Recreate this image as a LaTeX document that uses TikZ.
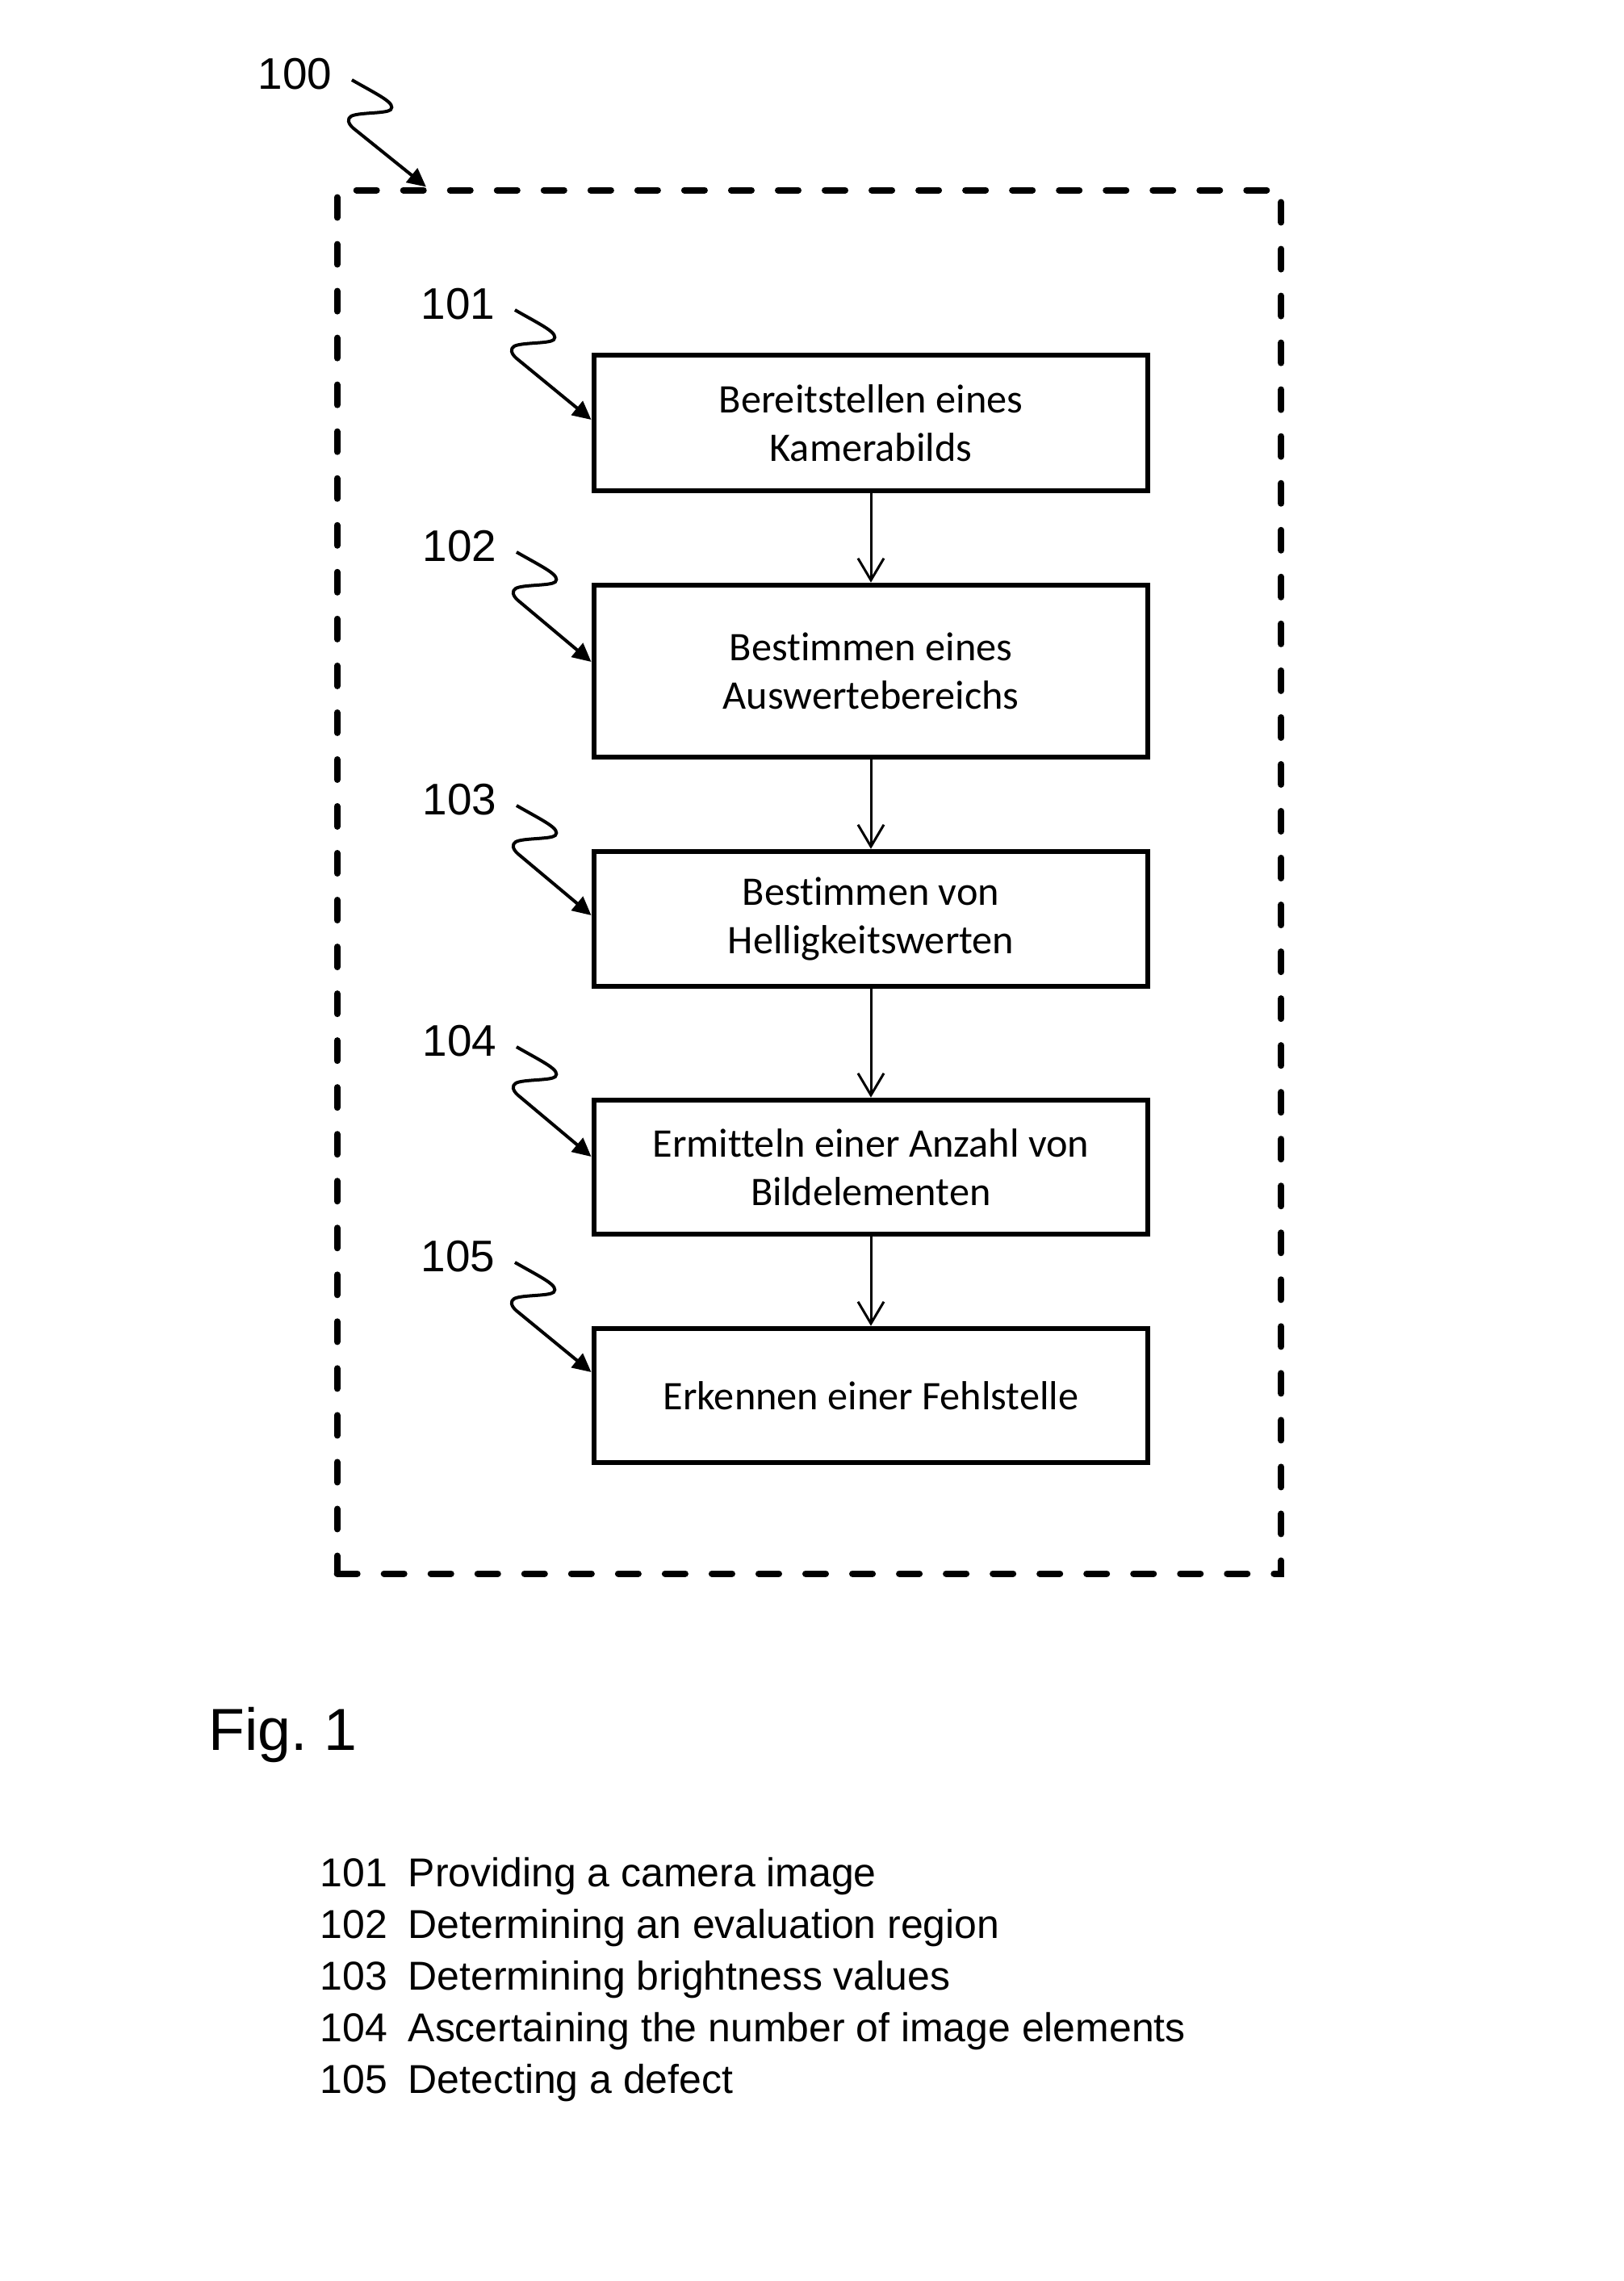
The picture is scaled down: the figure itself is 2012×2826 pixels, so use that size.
\documentclass[tikz,border=0pt]{standalone}
\usepackage{fontspec}
\setmainfont{Liberation Sans}
\newfontfamily\boxfont[Ligatures={NoCommon}]{Carlito}
\usetikzlibrary{calc,arrows.meta}
\newcommand\squigline[2]{%
  \draw[squig] (#1) .. controls ($(#1)+(35,20)$) and ($(#1)+(55,29)$) .. ($(#1)+(48,37)$)
    .. controls ($(#1)+(42,42)$) and ($(#1)+(8,40)$) .. ($(#1)+(-1,45)$)
    .. controls ($(#1)+(-6,48)$) and ($(#1)+(-5,54)$) .. ($(#1)+(2,60)$) -- (#2);}
\begin{document}
\begin{tikzpicture}[x=0.01cm,y=-0.01cm,
  stepbox/.style={draw, line width=0.065cm, minimum width=6.86cm, align=center,
    font=\boxfont\fontsize{14.3}{17.1}\selectfont, inner sep=0},
  reflabel/.style={anchor=base west, inner sep=0, font=\fontsize{15.6}{18}\selectfont},
  flow/.style={line width=0.03cm, -{Straight Barb[length=0.27cm,width=0.32cm]}},
  squig/.style={line width=0.04cm, -{Triangle[length=0.23cm,width=0.22cm]}},
  legend/.style={anchor=base west, inner sep=0, font=\fontsize{14.2}{16}\selectfont}]
\useasboundingbox (0,0) rectangle (2012,2826);

% dashed frame
\node[draw, line width=0.08cm, dash pattern=on 0.25cm off 0.33cm, line cap=round,
  minimum width=11.69cm, minimum height=17.13cm, inner sep=0] (frame) at (1002.5,1092.5) {};

% step boxes
\node[stepbox, minimum height=1.68cm] (b1) at (1079,524) {Bereitstellen eines\\Kamerabilds};
\node[stepbox, minimum height=2.13cm] (b2) at (1079,831.5) {Bestimmen eines\\Auswertebereichs};
\node[stepbox, minimum height=1.67cm] (b3) at (1079,1138.5) {Bestimmen von\\Helligkeitswerten};
\node[stepbox, minimum height=1.66cm] (b4) at (1079,1446) {Ermitteln einer Anzahl von\\Bildelementen};
\node[stepbox, minimum height=1.66cm] (b5) at (1079,1729) {Erkennen einer Fehlstelle};

\draw[flow] (b1) -- (b2);
\draw[flow] (b2) -- (b3);
\draw[flow] (b3) -- (b4);
\draw[flow] (b4) -- (b5);

% reference labels
\node[reflabel] (l0) at (319,110) {100};
\node[reflabel] (l1) at (521,395) {101};
\node[reflabel] (l2) at (523,695) {102};
\node[reflabel] (l3) at (523,1009) {103};
\node[reflabel] (l4) at (523,1308) {104};
\node[reflabel] (l5) at (521,1575) {105};

\coordinate (s0) at ($(l0.base east)+(24,-11)$);
\coordinate (s0d) at ($(s0)+(92,0)$);
\coordinate (t0) at (s0d |- frame.north);
\squigline{s0}{t0}

\foreach \i in {1,...,5}{
  \coordinate (s\i) at ($(l\i.base east)+(24,-11)$);
  \coordinate (s\i d) at ($(s\i)+(0,136)$);
  \coordinate (t\i) at (b\i.west |- s\i d);
  \squigline{s\i}{t\i}
}

% figure caption
\node[anchor=base west, inner sep=0, font=\fontsize{20.9}{25}\selectfont] (fig) at (258,2168) {Fig.\ 1};

% legend
\node[legend] (n1) at (396,2337) {101};
\node[legend] (d1) at (505,2337) {Providing a camera image};
\node[legend] (n2) at (396,2401) {102};
\node[legend] (d2) at (505,2401) {Determining an evaluation region};
\node[legend] (n3) at (396,2465) {103};
\node[legend] (d3) at (505,2465) {Determining brightness values};
\node[legend] (n4) at (396,2529) {104};
\node[legend] (d4) at (505,2529) {Ascertaining the number of image elements};
\node[legend] (n5) at (396,2593) {105};
\node[legend] (d5) at (505,2593) {Detecting a defect};
\end{tikzpicture}
\end{document}
